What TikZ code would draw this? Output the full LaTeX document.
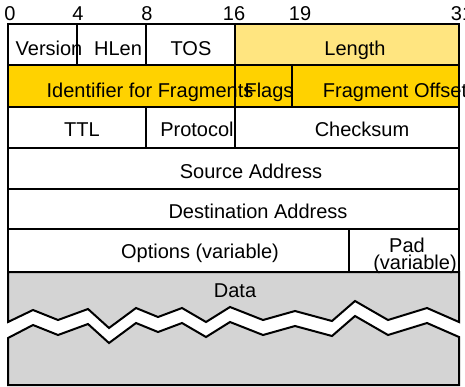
\documentclass[tikz,border=0pt]{standalone}
\usepackage{fontspec}
\setmainfont{Liberation Sans}
\definecolor{fieldgold}{RGB}{255,210,0}
\definecolor{fieldpale}{RGB}{255,229,128}
\definecolor{datagrey}{RGB}{212,212,212}
\begin{document}
\begin{tikzpicture}[x=1pt,y=-1pt,line width=2pt,line join=miter,
  lbl/.style={anchor=base,inner sep=0pt,font=\fontsize{20}{20}\selectfont},
  cell/.style={draw=black}]
\useasboundingbox (0,0) rectangle (465,386);
\clip (0,0) rectangle (465,386);

% bit positions
\node[lbl] (b0)  at (10,20)  {0};
\node[lbl] (b4)  at (78,20)  {4};
\node[lbl] (b8)  at (147,20) {8};
\node[lbl] (b16) at (234,20) {16};
\node[lbl] (b19) at (300,20) {19};
\node[lbl] (b31) at (462,20) {31};

% row 1
\draw[cell] (8,24) rectangle (77,65);
\draw[cell] (77,24) rectangle (146,65);
\draw[cell] (146,24) rectangle (235,65);
\draw[cell,fill=fieldpale] (235,24) rectangle (459,65);
% row 2
\draw[cell,fill=fieldgold] (8,65) rectangle (235,107);
\draw[cell,fill=fieldgold] (235,65) rectangle (292,107);
\draw[cell,fill=fieldgold] (292,65) rectangle (459,107);
% row 3
\draw[cell] (8,107) rectangle (146,148);
\draw[cell] (146,107) rectangle (235,148);
\draw[cell] (235,107) rectangle (459,148);
% rows 4-6
\draw[cell] (8,148) rectangle (459,189);
\draw[cell] (8,189) rectangle (459,229);
\draw[cell] (8,229) rectangle (349,272);
\draw[cell] (349,229) rectangle (459,272);

% data area, broken by a zigzag gap
\draw[cell,fill=datagrey] (8,272) -- (459,272) -- (459,322)
  -- (427,308) -- (388,320) -- (355,301) -- (332,321) -- (295,311)
  -- (263,320) -- (230,307) -- (206,322) -- (182,308) -- (158,317)
  -- (136,308) -- (109,328) -- (88,309) -- (58,320) -- (33,310)
  -- (8,322) -- cycle;
\draw[cell,fill=datagrey] (8,385) -- (459,385) -- (459,337)
  -- (427,323) -- (388,335) -- (355,316) -- (332,336) -- (295,326)
  -- (263,335) -- (230,322) -- (206,337) -- (182,323) -- (158,332)
  -- (136,323) -- (109,343) -- (88,324) -- (58,335) -- (33,325)
  -- (8,338) -- cycle;

% field names
\node[lbl] (ver)  at (49,55)   {Version};
\node[lbl] (hlen) at (118,55)  {HLen};
\node[lbl] (tos)  at (191,55)  {TOS};
\node[lbl] (len)  at (355,55)  {Length};
\node[lbl] (id)   at (150,97)  {Identifier for Fragments};
\node[lbl] (flg)  at (269,97)  {Flags};
\node[lbl] (fo)   at (395,97)  {Fragment Offset};
\node[lbl] (ttl)  at (82,136)  {TTL};
\node[lbl] (prot) at (197,136) {Protocol};
\node[lbl] (chk)  at (362,136) {Checksum};
\node[lbl] (src)  at (251,178) {Source Address};
\node[lbl] (dst)  at (258,218) {Destination Address};
\node[lbl] (opt)  at (200,258) {Options (variable)};
\node[lbl] (pad)  at (407,252) {Pad};
\node[lbl] (padv) at (415,269) {(variable)};
\node[lbl] (data) at (235,297) {Data};
\end{tikzpicture}
\end{document}
